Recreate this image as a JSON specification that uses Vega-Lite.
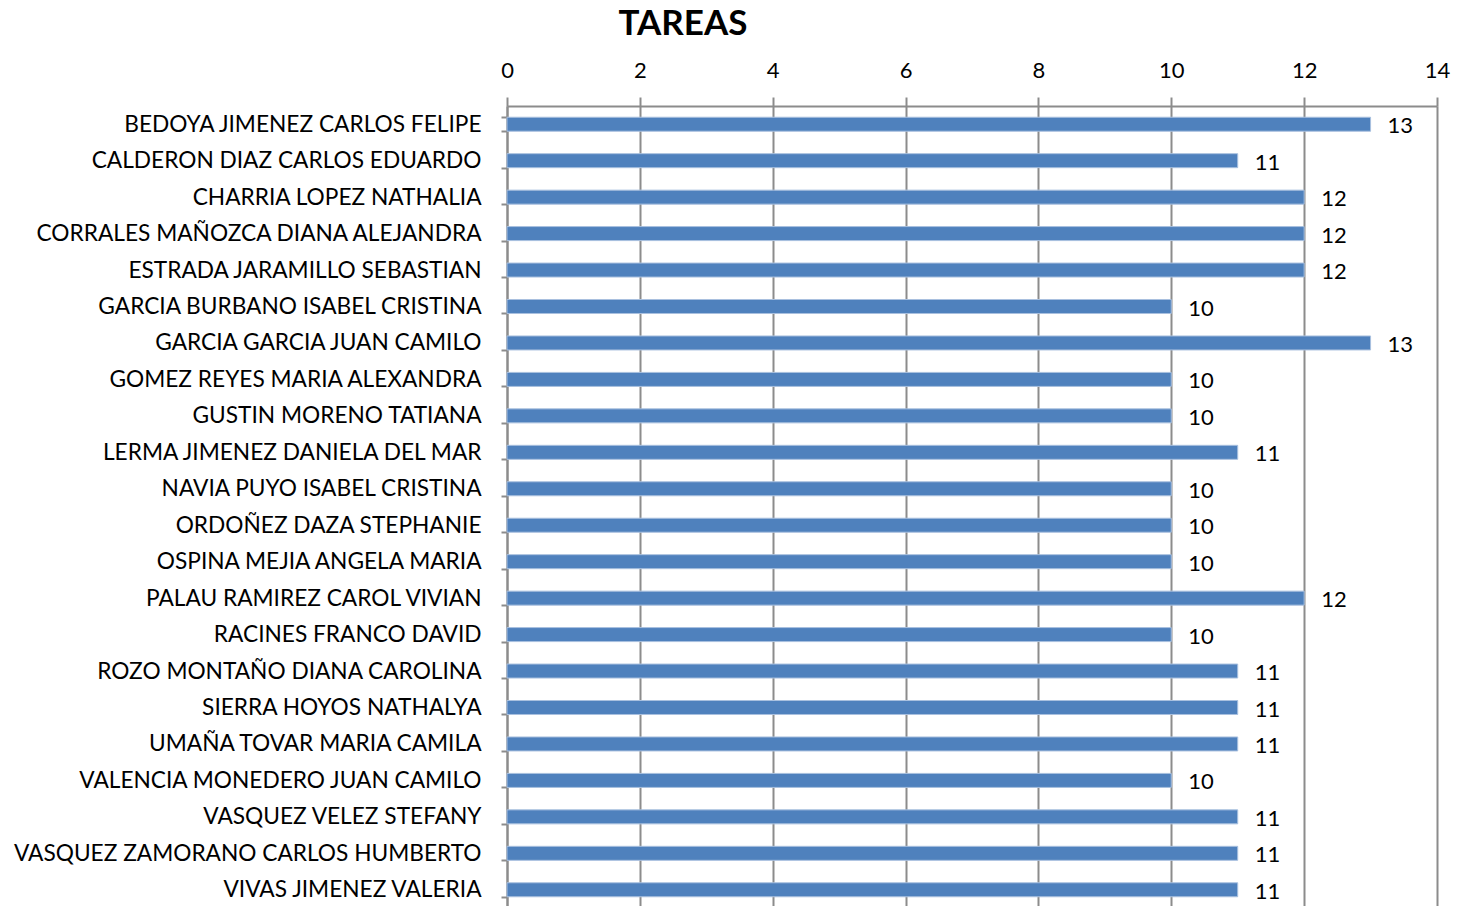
{
  "$schema": "https://vega.github.io/schema/vega-lite/v6.json",
  "autosize": "none",
  "padding": {"left": 507, "top": 106, "right": 25, "bottom": 0},
  "width": 930,
  "height": 802,
  "background": "white",
  "title": {
    "text": "TAREAS",
    "font": "Lato",
    "fontSize": 35,
    "fontWeight": "bold",
    "color": "#000000",
    "anchor": "middle",
    "frame": "group",
    "dx": -289,
    "offset": 17
  },
  "data": {
    "values": [
      {"nombre": "BEDOYA JIMENEZ CARLOS FELIPE\u2002", "tareas": 13},
      {"nombre": "CALDERON DIAZ CARLOS EDUARDO", "tareas": 11},
      {"nombre": "CHARRIA LOPEZ NATHALIA", "tareas": 12},
      {"nombre": "CORRALES MAÑOZCA DIANA ALEJANDRA", "tareas": 12},
      {"nombre": "ESTRADA JARAMILLO SEBASTIAN", "tareas": 12},
      {"nombre": "GARCIA BURBANO ISABEL CRISTINA", "tareas": 10},
      {"nombre": "GARCIA GARCIA JUAN CAMILO", "tareas": 13},
      {"nombre": "GOMEZ REYES MARIA ALEXANDRA", "tareas": 10},
      {"nombre": "GUSTIN MORENO TATIANA", "tareas": 10},
      {"nombre": "LERMA JIMENEZ DANIELA DEL MAR", "tareas": 11},
      {"nombre": "NAVIA PUYO ISABEL CRISTINA", "tareas": 10},
      {"nombre": "ORDOÑEZ DAZA STEPHANIE", "tareas": 10},
      {"nombre": "OSPINA MEJIA ANGELA MARIA", "tareas": 10},
      {"nombre": "PALAU RAMIREZ CAROL VIVIAN", "tareas": 12},
      {"nombre": "RACINES FRANCO DAVID", "tareas": 10},
      {"nombre": "ROZO MONTAÑO DIANA CAROLINA", "tareas": 11},
      {"nombre": "SIERRA HOYOS NATHALYA", "tareas": 11},
      {"nombre": "UMAÑA TOVAR MARIA CAMILA", "tareas": 11},
      {"nombre": "VALENCIA MONEDERO JUAN CAMILO", "tareas": 10},
      {"nombre": "VASQUEZ VELEZ STEFANY", "tareas": 11},
      {"nombre": "VASQUEZ ZAMORANO CARLOS HUMBERTO", "tareas": 11},
      {"nombre": "VIVAS JIMENEZ VALERIA", "tareas": 11}
    ]
  },
  "config": {
    "view": {"stroke": null},
    "axis": {"labelFont": "Lato", "labelColor": "#000000"}
  },
  "encoding": {
    "y": {
      "field": "nombre",
      "type": "nominal",
      "sort": null,
      "scale": {"paddingInner": 0.616, "paddingOuter": 0.308},
      "axis": {
        "title": null,
        "labelFontSize": 22.7,
        "labelPadding": 20,
        "labelLimit": 600,
        "tickBand": "extent",
        "tickSize": 6,
        "tickColor": "#8c8c8c",
        "tickWidth": 2,
        "domainColor": "#8c8c8c",
        "domainWidth": 2,
        "grid": false
      }
    },
    "x": {
      "field": "tareas",
      "type": "quantitative",
      "scale": {"domain": [0, 14], "nice": false},
      "axis": {
        "orient": "top",
        "title": null,
        "values": [0, 2, 4, 6, 8, 10, 12, 14],
        "labelFontSize": 22,
        "labelPadding": 15,
        "labelFlush": false,
        "tickSize": 9,
        "tickColor": "#8c8c8c",
        "tickWidth": 2,
        "domainColor": "#8c8c8c",
        "domainWidth": 2,
        "grid": true,
        "gridColor": "#8c8c8c",
        "gridWidth": 2,
        "gridOpacity": 1
      }
    }
  },
  "layer": [
    {
      "mark": {"type": "bar", "color": "#4f81bd", "stroke": "#a9c0df", "strokeWidth": 1}
    },
    {
      "mark": {"type": "text", "align": "left", "dx": 17, "dy": 2, "font": "Lato", "fontSize": 22, "color": "#000000"},
      "encoding": {"text": {"field": "tareas", "type": "quantitative"}}
    }
  ]
}
